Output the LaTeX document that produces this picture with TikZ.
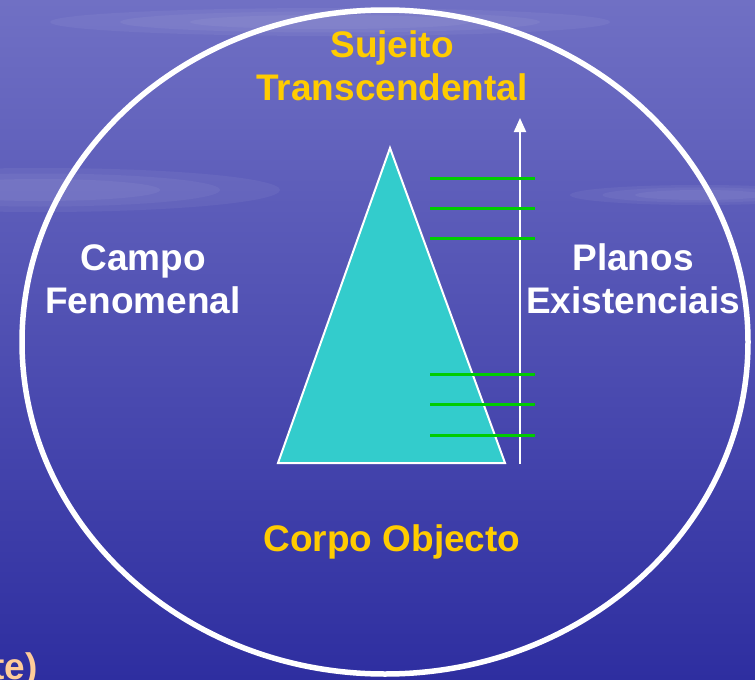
\documentclass[tikz,border=0pt]{standalone}
\usepackage{fontspec}
\setmainfont{Liberation Sans}
\usetikzlibrary{shapes.geometric, arrows.meta, positioning}

\definecolor{skytop}{RGB}{112,112,196}
\definecolor{skymid}{RGB}{92,92,192}
\definecolor{skybot}{RGB}{46,46,160}
\definecolor{gold}{RGB}{255,204,0}
\definecolor{pale}{RGB}{255,204,153}
\definecolor{teal}{RGB}{51,204,204}
\definecolor{plane}{RGB}{0,204,0}

\begin{document}
\begin{tikzpicture}[
    x=1pt, y=-1pt,
    every node/.style={font=\fontsize{37}{43}\selectfont\bfseries, align=center, inner sep=0pt},
    title/.style={text=gold},
    side/.style={text=white},
    field/.style={ellipse, draw=white, line width=5.5pt, minimum width=726pt, minimum height=664pt},
    arrow/.style={-{Triangle[length=14pt, width=12pt]}, white, line width=2pt},
    level/.style={plane, line width=3pt},
    cloud/.style={white, opacity=0.05}
]

    % Background
    \useasboundingbox (0,0) rectangle (755,680);
    \clip (0,0) rectangle (755,680);
    \fill[top color=skytop, middle color=skymid, bottom color=skybot] (0,0) rectangle (755,680);
    \foreach \s in {1.0, 0.75, 0.5} {
        \fill[cloud] (40,190) ellipse [x radius=240*\s, y radius=22*\s];
        \fill[cloud] (330,22) ellipse [x radius=280*\s, y radius=14*\s];
        \fill[cloud] (700,195) ellipse [x radius=130*\s, y radius=10*\s];
    }

    % Phenomenal field
    \node[field] (campo) at (385,342) {};

    % Triangle (body to subject)
    \coordinate (apex) at (390,148);
    \coordinate (baseL) at (278,463);
    \coordinate (baseR) at (505,463);
    \filldraw[fill=teal, draw=white, line width=2pt] (apex) -- (baseR) -- (baseL) -- cycle;

    % Existential axis
    \coordinate (axisB) at (520,464);
    \coordinate (axisT) at (520,118);
    \draw[arrow] (axisB) -- (axisT);

    % Planes
    \foreach \i/\y in {1/178, 2/208, 3/238, 4/374, 5/404, 6/435} {
        \coordinate (pL\i) at (430,\y);
        \coordinate (pR\i) at (535,\y);
        \draw[level] (pL\i) -- (pR\i);
    }

    % Labels
    \node[title] (sujeito) at (392,66) {Sujeito\\Transcendental};
    \node[side] (fenomenal) at (143,279) {Campo\\Fenomenal};
    \node[side] (planos) at (633,279) {Planos\\Existenciais};
    \node[title] (corpo) at (392,542) {Corpo Objecto};
    \node[text=pale, anchor=base east] (resto) at (38,679) {te)};

\end{tikzpicture}
\end{document}
